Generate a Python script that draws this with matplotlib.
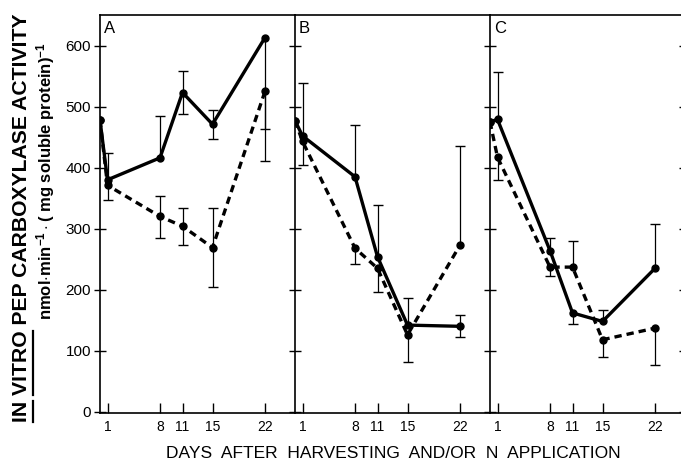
import matplotlib
matplotlib.use("Agg")
import matplotlib.pyplot as plt
from matplotlib.lines import Line2D
import numpy as np

plt.rcParams['font.family'] = ['Liberation Sans', 'DejaVu Sans']
plt.rcParams['mathtext.fontset'] = 'custom'
plt.rcParams['mathtext.rm'] = 'Liberation Sans:bold'
plt.rcParams['mathtext.it'] = 'Liberation Sans:bold'
plt.rcParams['mathtext.bf'] = 'Liberation Sans:bold'

days = [0, 1, 8, 11, 15, 22]
xtick_days = [1, 8, 11, 15, 22]
yticks = [0, 100, 200, 300, 400, 500, 600]
panel_labels = ["A", "B", "C"]

# Panel A
A_solid = [478, 380, 416, 523, 471, 613]
A_solid_lo = [0, 0, 0, 35, 24, 202]
A_solid_hi = [0, 44, 69, 35, 23, 0]
A_dash = [478, 371, 320, 304, 269, 525]
A_dash_lo = [0, 24, 36, 31, 65, 62]
A_dash_hi = [0, 0, 34, 30, 65, 0]

# Panel B
B_solid = [477, 452, 385, 254, 142, 140]
B_solid_lo = [0, 0, 0, 0, 0, 18]
B_solid_hi = [0, 87, 84, 84, 44, 19]
B_dash = [477, 443, 268, 235, 126, 273]
B_dash_lo = [0, 39, 26, 38, 44, 0]
B_dash_hi = [0, 0, 0, 0, 0, 163]

# Panel C
C_solid = [475, 479, 264, 162, 148, 235]
C_solid_lo = [0, 0, 0, 19, 0, 0]
C_solid_hi = [0, 78, 20, 0, 18, 73]
C_dash = [475, 417, 237, 237, 118, 137]
C_dash_lo = [0, 38, 15, 0, 28, 61]
C_dash_hi = [0, 0, 0, 43, 0, 0]

panels = [
    (A_solid, A_solid_lo, A_solid_hi, A_dash, A_dash_lo, A_dash_hi),
    (B_solid, B_solid_lo, B_solid_hi, B_dash, B_dash_lo, B_dash_hi),
    (C_solid, C_solid_lo, C_solid_hi, C_dash, C_dash_lo, C_dash_hi),
]

W, H = 681, 462
fig = plt.figure(figsize=(W / 100, H / 100), dpi=100)

left_px = [100, 295, 490]
pw = 195
top_px, bot_px = 15, 413


def draw_err(ax, x, y, lo, hi):
    for xi, yi, l, h in zip(x, y, lo, hi):
        if l > 0:
            ax.vlines(xi, yi - l, yi, color='black', lw=0.9, zorder=2)
            ax.plot([xi], [yi - l], marker='_', ms=7, mew=1.0, color='black', zorder=2)
        if h > 0:
            ax.vlines(xi, yi, yi + h, color='black', lw=0.9, zorder=2)
            ax.plot([xi], [yi + h], marker='_', ms=7, mew=1.0, color='black', zorder=2)


axes = []
for i, (lp, data) in enumerate(zip(left_px, panels)):
    ax = fig.add_axes([lp / W, 1 - bot_px / H, pw / W, (bot_px - top_px) / H])
    s, slo, shi, d, dlo, dhi = data
    draw_err(ax, days, s, slo, shi)
    draw_err(ax, days, d, dlo, dhi)
    ax.plot(days, s, '-', color='black', lw=2.4, marker='o', ms=5, zorder=3,
            solid_joinstyle='round')
    ax.plot(days, d, '--', color='black', lw=2.4, marker='o', ms=5, zorder=3,
            dashes=(2.2, 1.5))
    ax.set_xlim(0, 26)
    ax.set_ylim(-2, 650)
    ax.set_xticks(xtick_days)
    ax.set_xticklabels([str(v) for v in xtick_days], fontsize=10)
    ax.tick_params(axis='x', direction='in', length=7, width=1.0, pad=5)
    ax.set_yticks(yticks)
    if i == 0:
        ax.set_yticklabels([str(v) for v in yticks], fontsize=11)
        ax.tick_params(axis='y', direction='inout', length=9, width=1.0, pad=2)
    else:
        ax.set_yticklabels([])
        ax.tick_params(axis='y', direction='inout', length=9, width=1.0)
    if i == 2:
        ax.tick_params(axis='y', right=True, which='both')
    for sp in ax.spines.values():
        sp.set_linewidth(1.2)
    ax.spines['right'].set_visible(i == 2)
    ax.text(0.02, 0.985, panel_labels[i], transform=ax.transAxes, fontsize=12,
            ha='left', va='top')
    axes.append(ax)

ylab1 = "IN VITRO PEP CARBOXYLASE ACTIVITY"
lab_kw = dict(fontsize=15.2, fontweight='bold')
t1 = fig.text(22 / W, 1 - 218 / H, ylab1, rotation=90, ha='center', va='center', **lab_kw)
fig.text(46 / W, 1 - 181 / H,
         r"nmol$\cdot$min$^{-1}\cdot$( mg soluble protein)$^{-1}$",
         rotation=90, ha='center', va='center', fontsize=12, fontweight='bold')
fig.text(393 / W, 1 - 453 / H, "DAYS  AFTER  HARVESTING  AND/OR  N  APPLICATION",
         ha='center', va='center', fontsize=12.5)

# underline "IN" and "VITRO" (rotated text reads bottom to top)
fig.canvas.draw()
renderer = fig.canvas.get_renderer()
bb = t1.get_window_extent(renderer)


def text_len(s):
    tmp = fig.text(0, 0, s, **lab_kw)
    w = tmp.get_window_extent(renderer).width
    tmp.remove()
    return w


full = text_len(ylab1)
y0 = bb.y0 + (bb.height - full) / 2
segs = [(0, text_len("IN")), (text_len("IN "), text_len("IN VITRO"))]
xu = bb.x1 + 1.5
for a, b in segs:
    fig.add_artist(Line2D([xu / W, xu / W], [(y0 + a) / H, (y0 + b) / H],
                          color='black', lw=1.6, transform=fig.transFigure))

fig.savefig("out.png", dpi=100)
